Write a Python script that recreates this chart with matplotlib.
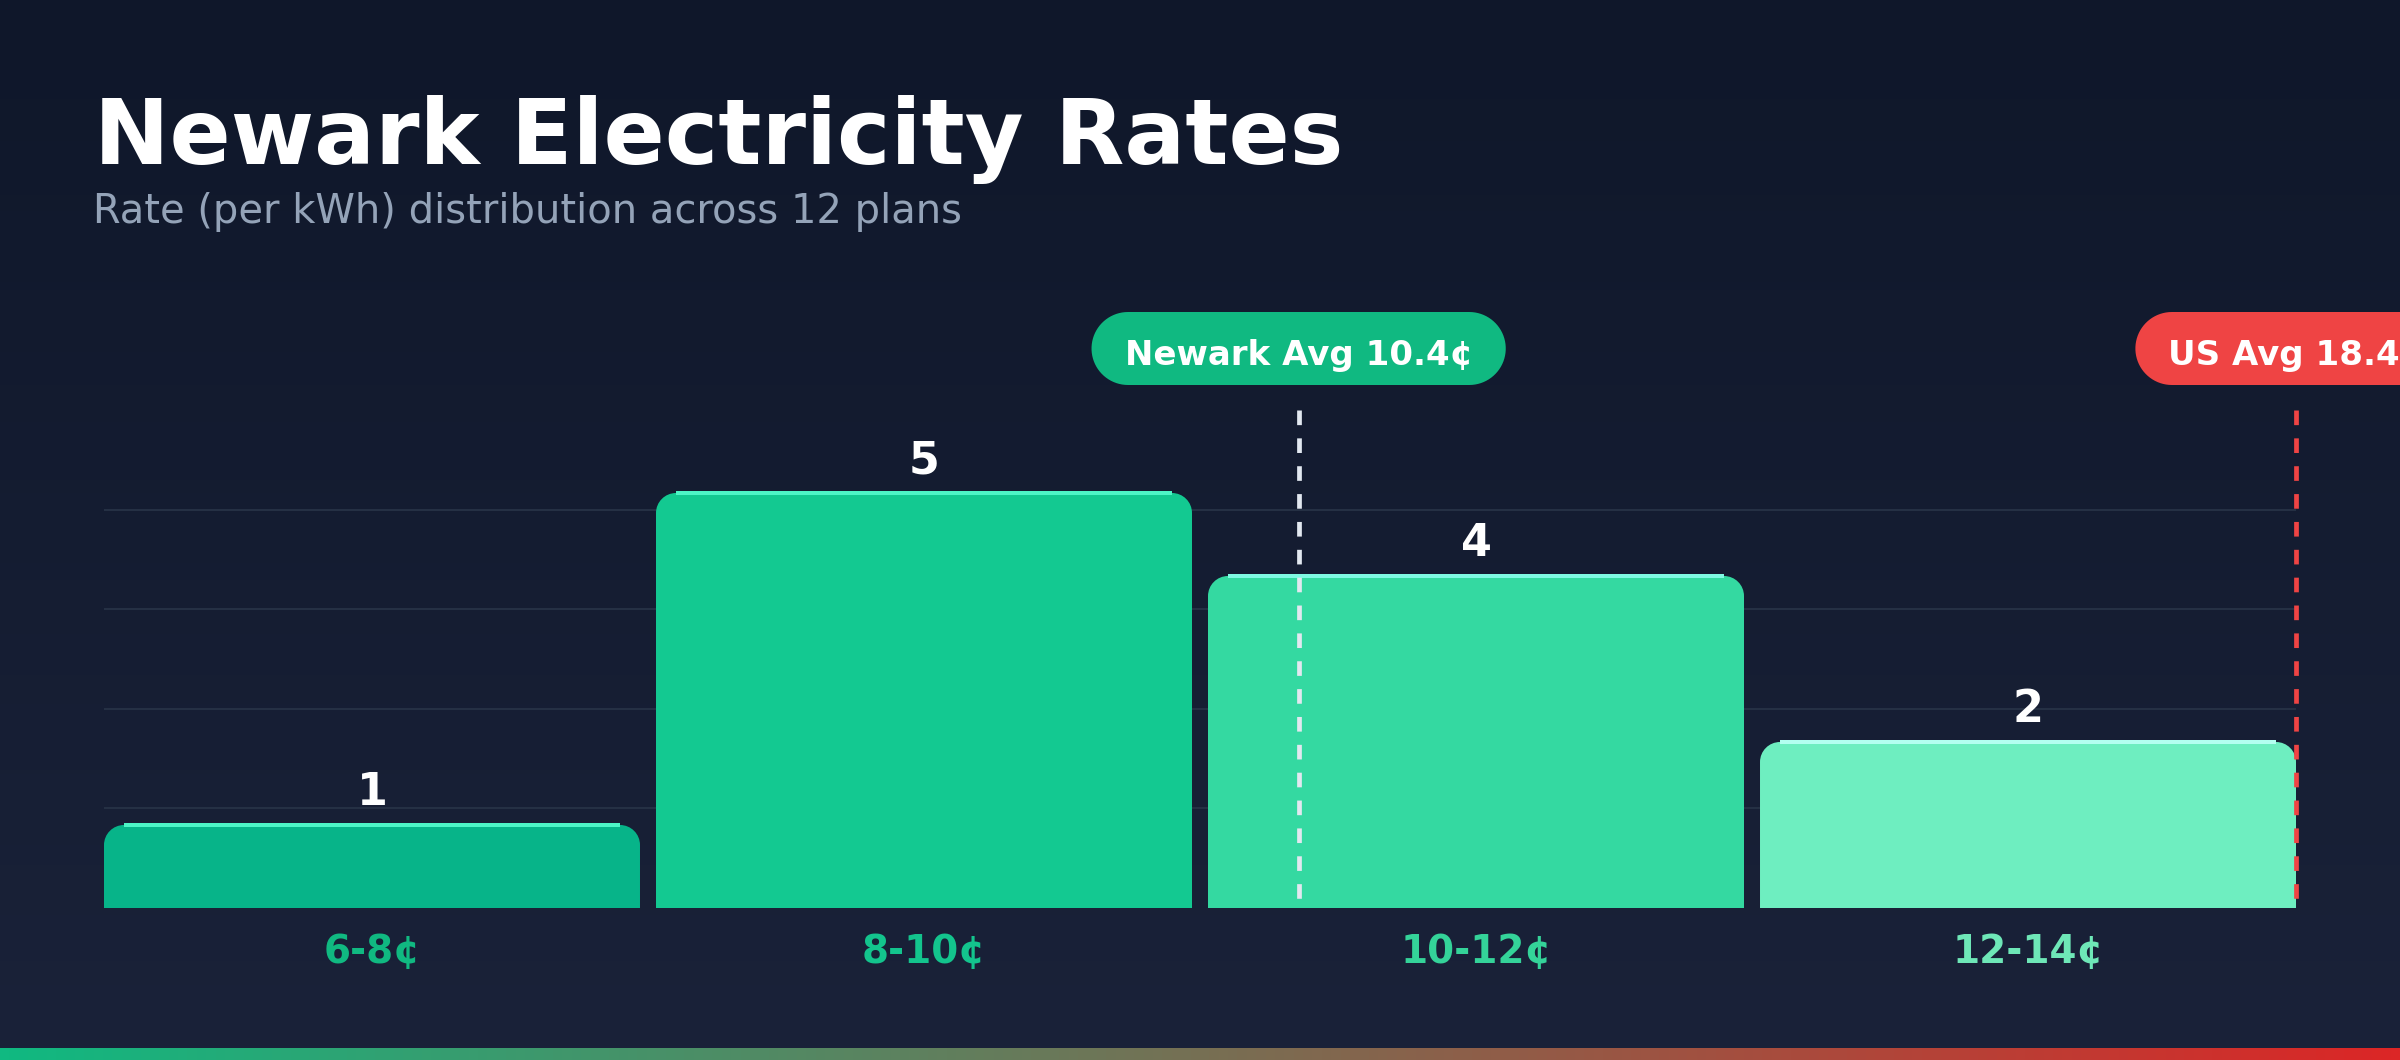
import numpy as np
import matplotlib
matplotlib.use('Agg')
import matplotlib.pyplot as plt
from matplotlib.path import Path
from matplotlib.patches import PathPatch, Polygon
from matplotlib.colors import LinearSegmentedColormap
from matplotlib.transforms import IdentityTransform

# data
bins = ['6-8¢', '8-10¢', '10-12¢', '12-14¢']
bin_lo = [6, 8, 10, 12]
bin_hi = [8, 10, 12, 14]
counts = [1, 5, 4, 2]
newark_avg = 10.36
us_avg = 18.4

bar_colors = ['#07b489', '#13c991', '#34d9a1', '#6eeec0']
top_colors = ['#4df5c6', '#4df5c6', '#7ff9e2', '#b3fff0']
label_colors = ['#10b981', '#13c48d', '#34d399', '#6ee7b7']

W, H = 2400, 1060


def rounded_bar(ax, x0, w, h, r_px, color, hl):
    xl, yl = ax.get_xlim(), ax.get_ylim()
    sx = ax.bbox.width / (xl[1] - xl[0])
    sy = ax.bbox.height / (yl[1] - yl[0])
    rx, ry = r_px / sx, r_px / sy
    k = 0.5523
    verts = [(x0, 0), (x0, h - ry),
             (x0, h - ry + k * ry), (x0 + rx - k * rx, h), (x0 + rx, h),
             (x0 + w - rx, h),
             (x0 + w - rx + k * rx, h), (x0 + w, h - ry + k * ry), (x0 + w, h - ry),
             (x0 + w, 0), (x0, 0)]
    codes = [Path.MOVETO, Path.LINETO,
             Path.CURVE4, Path.CURVE4, Path.CURVE4,
             Path.LINETO,
             Path.CURVE4, Path.CURVE4, Path.CURVE4,
             Path.LINETO, Path.CLOSEPOLY]
    ax.add_patch(PathPatch(Path(verts, codes), fc=color, ec='none', zorder=3))
    ax.plot([x0 + rx, x0 + w - rx], [h, h], color=hl, lw=4 * 0.72,
            solid_capstyle='butt', zorder=4)


def pill(fig, cx, cy, w, h, color):
    # stadium shape in figure pixels
    r = h / 2
    a = np.linspace(np.pi / 2, 3 * np.pi / 2, 40)
    left = np.c_[cx - w / 2 + r + r * np.cos(a), cy + r * np.sin(a)]
    right = np.c_[cx + w / 2 - r - r * np.cos(a), cy - r * np.sin(a)]
    p = Polygon(np.vstack([left, right]), closed=True, fc=color, ec='none',
                transform=IdentityTransform(), zorder=10)
    fig.add_artist(p)


fig = plt.figure(figsize=(W / 100, H / 100), dpi=100)

# background gradient
bg = fig.add_axes([0, 0, 1, 1], zorder=0)
bg.imshow(np.linspace(0, 1, 256).reshape(-1, 1), aspect='auto',
          cmap=LinearSegmentedColormap.from_list('bg', ['#0f172a', '#1a2239']),
          extent=[0, 1, 0, 1])
bg.axis('off')

# bottom accent strip
strip = fig.add_axes([0, 0, 1, 12 / H], zorder=1)
strip.imshow(np.linspace(0, 1, 256).reshape(1, -1), aspect='auto',
             cmap=LinearSegmentedColormap.from_list('st', ['#10b981', '#dc2626']))
strip.axis('off')

ax = fig.add_axes([104 / W, 152 / H, 2192 / W, 498 / H], zorder=2)
ax.patch.set_alpha(0)
xmin, xmax = bin_lo[0], bin_hi[-1]
ymax = max(counts) * 1.2
ax.set_xlim(xmin, xmax)
ax.set_ylim(0, ymax)
for s in ax.spines.values():
    s.set_visible(False)
ax.set_xticks([])
ax.set_yticks([ymax * k / 5 for k in range(1, 5)])
ax.tick_params(length=0, labelleft=False)
ax.yaxis.grid(True, color='#253044', lw=1.5, zorder=1)
ax.set_axisbelow(True)

# band layout of the bins
n = len(counts)
pad = 0.029
step = (xmax - xmin) / (n - pad)
bw = step * (1 - pad)
for i, (lab, c) in enumerate(zip(bins, counts)):
    x0 = xmin + i * step
    rounded_bar(ax, x0, bw, c, 20, bar_colors[i], top_colors[i])
    cx = x0 + bw / 2
    ax.annotate(str(c), xy=(cx, c), xytext=(0, 14.4), textcoords='offset points',
                ha='center', va='baseline', fontsize=32, fontweight='bold',
                color='white', zorder=5)
    ax.annotate(lab, xy=(cx, 0), xytext=(0, -39.6), textcoords='offset points',
                ha='center', va='baseline', fontsize=28, fontweight='bold',
                color=label_colors[i], annotation_clip=False)

# average lines with badges
avgs = [(newark_avg, 'Newark Avg', '#10b981', '#e2e8f0'),
        (us_avg, 'US Avg', '#ef4444', '#ef4444')]
renderer = fig.canvas.get_renderer()
for val, name, pc, lc in avgs:
    xv = min(max(val, xmin), xmax)
    ax.plot([xv, xv], [ymax, 0], color=lc, lw=3.4, linestyle=(0, (3.1, 2.8)),
            clip_on=False, zorder=6)
    px = ax.transData.transform((xv, 0))[0]
    t = fig.text(px / W, 695 / H, f'{name} {val:.1f}¢', ha='center', va='baseline',
                 fontsize=24.5, fontweight='bold', color='white', zorder=11)
    tw = t.get_window_extent(renderer).width
    pill(fig, px, 711.5, tw + 66, 73, pc)

fig.text(94 / W, 1 - 164 / H, 'Newark Electricity Rates', fontsize=65,
         fontweight='bold', color='white', va='baseline')
fig.text(93 / W, 1 - 223 / H, 'Rate (per kWh) distribution across 12 plans',
         fontsize=28.8, color='#94a3b8', va='baseline')

fig.savefig('out.png', dpi=100, facecolor=fig.get_facecolor())
